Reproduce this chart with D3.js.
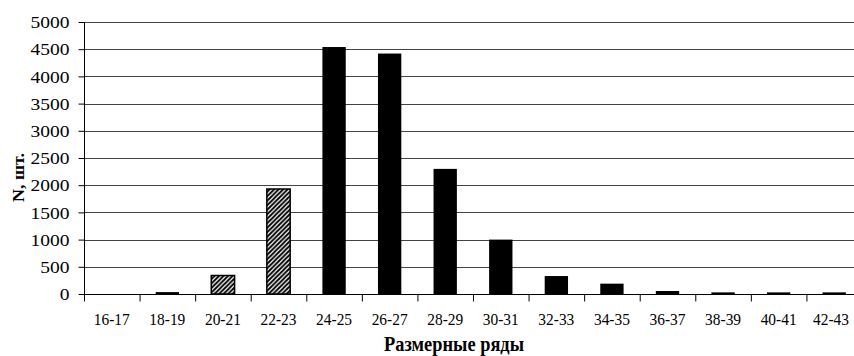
<!DOCTYPE html>
<html>
<head>
<meta charset="utf-8">
<script src="https://cdn.jsdelivr.net/npm/d3@7"></script>
<style>
  html, body { margin: 0; padding: 0; background: #ffffff; }
  svg { display: block; }
</style>
</head>
<body>
<svg id="chart" width="854" height="356"></svg>
<script>
const categories = ["16-17","18-19","20-21","22-23","24-25","26-27","28-29","30-31","32-33","34-35","36-37","38-39","40-41","42-43"];
const values = [0, 35, 340, 1930, 4540, 4420, 2300, 1000, 330, 190, 55, 30, 30, 30];
const hatched = [false, false, true, true, false, false, false, false, false, false, false, false, false, false];
const yTicks = [0, 500, 1000, 1500, 2000, 2500, 3000, 3500, 4000, 4500, 5000];
const xTitle = "Размерные ряды";
const yTitle = "N, шт.";

(function () {
const W = 854;
const svg = d3.select("#chart");
const pLeft = 84, pRight = 862, pTop = 22, pBottom = 294;

const x = d3.scaleBand().domain(categories).range([pLeft, pRight]).paddingInner(0.58).paddingOuter(0.29);
const xb = d3.scaleLinear().domain([0, categories.length]).range([pLeft, pRight]);
const y = d3.scaleLinear().domain([0, 5000]).range([pBottom, pTop]);

const defs = svg.append("defs");
const pat = defs.append("pattern").attr("id", "hatch").attr("patternUnits", "userSpaceOnUse")
  .attr("width", 4.5).attr("height", 4.5);
pat.append("rect").attr("width", 4.5).attr("height", 4.5).attr("fill", "#fff");
pat.append("path").attr("d", "M-1,1 l2,-2 M0,4.5 l4.5,-4.5 M3.5,5.5 l2,-2").attr("stroke", "#000").attr("stroke-width", 1.9);

// gridlines
svg.append("g").selectAll("line").data(yTicks.filter(d => d > 0)).join("line")
  .attr("x1", pLeft).attr("x2", pRight)
  .attr("y1", d => Math.round(y(d)) + 0.5).attr("y2", d => Math.round(y(d)) + 0.5)
  .attr("stroke", "#444").attr("stroke-width", 1);

// bars
svg.append("g").selectAll("rect").data(categories).join("rect")
  .attr("x", d => x(d))
  .attr("width", x.bandwidth())
  .attr("y", (d, i) => y(values[i]))
  .attr("height", (d, i) => pBottom - y(values[i]))
  .attr("fill", (d, i) => hatched[i] ? "url(#hatch)" : "#000")
  .attr("stroke", "#000").attr("stroke-width", (d, i) => hatched[i] ? 1.5 : 0);

// y axis
const yAxis = d3.axisLeft(y).tickValues(yTicks).tickSize(6).tickPadding(9).tickFormat(d3.format("d"));
const gy = svg.append("g").attr("transform", `translate(${pLeft + 0.5},0)`).call(yAxis);
gy.select(".domain").attr("stroke", "#000").attr("d", `M0,${pTop}V${pBottom}`);
gy.selectAll(".tick line").attr("stroke", "#000");
gy.selectAll("text").attr("font-family", "Liberation Serif").attr("font-size", 17.5).attr("fill", "#000")
  .attr("textLength", d => String(d).length * 9.75).attr("lengthAdjust", "spacingAndGlyphs");

// x axis
const xAxis = d3.axisBottom(xb).tickValues(d3.range(categories.length + 1)).tickSize(7).tickFormat("");
const gx = svg.append("g").attr("transform", `translate(0,${pBottom + 0.5})`).call(xAxis);
gx.select(".domain").attr("stroke", "#000").attr("d", `M${pLeft},0H${pRight}`);
gx.selectAll(".tick line").attr("stroke", "#000");

const labelW = 36;
svg.append("g").selectAll("text").data(categories).join("text")
  .attr("x", d => Math.min(x(d) + x.bandwidth() / 2, W - 5 - labelW / 2))
  .attr("y", 325)
  .attr("text-anchor", "middle")
  .attr("font-family", "Liberation Serif").attr("font-size", 17).attr("fill", "#000")
  .attr("textLength", labelW).attr("lengthAdjust", "spacingAndGlyphs")
  .text(d => d);

svg.append("text").attr("x", 454).attr("y", 351).attr("text-anchor", "middle")
  .attr("font-family", "Liberation Serif").attr("font-weight", "bold").attr("font-size", 20)
  .attr("textLength", 140).attr("lengthAdjust", "spacingAndGlyphs")
  .attr("fill", "#000").text(xTitle);

svg.append("text").attr("transform", "translate(24,177.5) rotate(-90)").attr("text-anchor", "middle")
  .attr("font-family", "Liberation Serif").attr("font-weight", "bold").attr("font-size", 17)
  .attr("textLength", 49).attr("lengthAdjust", "spacingAndGlyphs")
  .attr("fill", "#000").text(yTitle);
})();
</script>
</body>
</html>
